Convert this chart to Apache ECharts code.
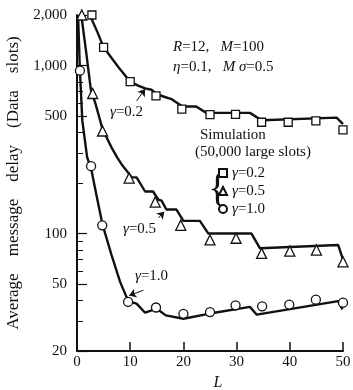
<!DOCTYPE html>
<html>
<head>
<meta charset="utf-8">
<script src="https://cdn.jsdelivr.net/npm/echarts@6/dist/echarts.min.js"></script>
<style>
  html, body { margin: 0; padding: 0; background: #fff; }
  #chart { width: 353px; height: 390px; }
</style>
</head>
<body>
<div id="chart"></div>
<script>
// analytic curves, [L, average delay]
const curve02 = [[2.4, 2000], [3.7, 1620], [5, 1288], [6.5, 1110], [7.8, 977], [10, 802], [11.5, 760], [12.8, 731],
    [14, 718], [15, 676], [16.5, 650], [17.8, 631], [19.7, 575], [20.6, 571], [22.4, 571], [24.3, 523], [32.5, 523],
    [34.7, 473], [48.8, 490], [50, 448]];
const curve05 = [[0.8, 2000], [1.7, 1220], [2.6, 720], [3.5, 590], [4.8, 418], [6.5, 325], [7.6, 282], [8.4, 258],
    [10.3, 216], [11.2, 216], [12.8, 178], [14.3, 178], [15.3, 159], [15.9, 157], [16.8, 139], [18.7, 139], [20, 119],
    [23.1, 119], [24.7, 100], [32.8, 100], [34.4, 81.7], [49.1, 85.5], [50, 70]];
const curve10 = [[0.2, 2000], [0.55, 930], [1.0, 470], [1.9, 285], [2.7, 240], [3.7, 167], [4.8, 113], [6.5, 74.5],
    [8.1, 51.6], [9.3, 42], [9.7, 39.5], [11.2, 38.3], [12.8, 33.8], [15, 35.7], [16.7, 32.6], [20, 31.1], [24.7, 33.3],
    [32.5, 36.6], [33.8, 32.9], [49.1, 39.6], [49.9, 35.4]];

// simulation points (50,000 large slots)
const sim02 = [[2.8, 2000], [5, 1285], [10, 802], [14.85, 661], [19.7, 551], [25, 510], [29.8, 512], [34.7, 460],
    [39.7, 460], [44.9, 468], [50, 414]];
const sim05 = [[0.9, 2000], [2.95, 682], [4.8, 408], [9.8, 214], [14.7, 154], [19.5, 112], [25, 91.6], [29.9, 93.8],
    [34.7, 76.2], [40, 78.7], [45, 79.8], [50, 67.9]];
const sim10 = [[0.55, 933], [2.65, 252], [4.75, 112], [9.6, 39.2], [14.85, 36.3], [20, 33.3], [25, 34.1], [29.8, 37.4],
    [34.8, 36.9], [39.9, 37.8], [44.9, 40.4], [50, 38.8]];

const seriesNames = ['γ=0.2', 'γ=0.5', 'γ=1.0'];
const yMajorTicks = [20, 50, 100, 500, 1000, 2000];
const yMinorTicks = [30, 40, 60, 70, 80, 90, 200, 300, 400, 600, 700, 800, 900];

// arrows from the curve labels to the curves
const arrow02 = [[11.2, 616], [12.8, 725]];
const arrow05 = [[15.3, 124], [16.4, 135]];
const arrow10 = [[12.5, 46], [9.8, 42.8]];

const serif = '"Liberation Serif", "DejaVu Serif", serif';
const ink = '#111';

const chart = echarts.init(document.getElementById('chart'));

const arrowMark = (pts) => ({
    silent: true,
    symbol: ['none', 'arrow'],
    symbolSize: 7,
    label: {show: false},
    lineStyle: {color: ink, width: 1, type: 'solid'},
    data: [[{coord: pts[0]}, {coord: pts[1]}]]
});

const curveSeries = (data, arrow) => ({
    type: 'line',
    data: data,
    symbol: 'none',
    smooth: false,
    lineStyle: {color: ink, width: 2.4},
    markLine: arrowMark(arrow),
    z: 2
});

const simSeries = (name, data, symbol, size) => ({
    name: name,
    type: 'scatter',
    data: data,
    symbol: symbol,
    symbolSize: size,
    itemStyle: {color: '#fff', borderColor: ink, borderWidth: 1.3, opacity: 1},
    z: 3
});

const txt = (x, y, text, size, extra) => ({
    type: 'text',
    x: x,
    y: y,
    silent: true,
    style: Object.assign({
        text: text,
        fill: ink,
        font: size + 'px ' + serif,
        verticalAlign: 'middle',
        rich: {i: {fontStyle: 'italic', fontSize: size, fontFamily: serif, fill: ink}}
    }, extra || {})
});

chart.setOption({
    animation: false,
    backgroundColor: '#fff',
    grid: {left: 77, right: 10, top: 15, bottom: 39, outerBoundsMode: 'none', containLabel: false},
    xAxis: {
        type: 'value',
        min: 0,
        max: 50,
        interval: 10,
        name: 'L',
        nameLocation: 'middle',
        nameGap: 21,
        nameTextStyle: {fontFamily: serif, fontStyle: 'italic', fontSize: 16, color: ink, padding: [0, 0, 0, 16]},
        axisLine: {lineStyle: {color: ink, width: 2}},
        axisTick: {inside: true, length: 9, lineStyle: {color: ink, width: 1.5}},
        axisLabel: {fontFamily: serif, fontSize: 15, color: ink, margin: 4},
        splitLine: {show: false}
    },
    yAxis: [{
        type: 'log',
        logBase: 10,
        min: 20,
        max: 2000,
        name: 'Average    message    delay    (Data    slots)',
        nameLocation: 'middle',
        nameGap: 51,
        nameRotate: 90,
        nameTextStyle: {fontFamily: serif, fontSize: 17, color: ink},
        axisLine: {show: true, lineStyle: {color: ink, width: 2}},
        axisTick: {show: true, inside: true, length: 10, customValues: yMajorTicks, lineStyle: {color: ink, width: 1.2}},
        axisLabel: {
            fontFamily: serif, fontSize: 15, color: ink, margin: 10,
            customValues: yMajorTicks,
            formatter: (v) => Number(v).toLocaleString('en-US')
        },
        splitLine: {show: false}
    }, {
        type: 'log',
        logBase: 10,
        min: 20,
        max: 2000,
        position: 'left',
        axisLine: {show: false},
        axisTick: {show: true, inside: true, length: 6, customValues: yMinorTicks, lineStyle: {color: ink, width: 1}},
        axisLabel: {show: false},
        splitLine: {show: false}
    }],
    legend: {
        data: seriesNames,
        orient: 'vertical',
        left: 218,
        top: 165,
        padding: 0,
        itemWidth: 8,
        itemHeight: 8,
        itemGap: 2,
        selectedMode: false,
        formatter: (name) => '{i|γ}' + name.slice(1),
        textStyle: {
            fontFamily: serif, fontSize: 15, color: ink, lineHeight: 16,
            rich: {i: {fontStyle: 'italic', fontFamily: serif, fontSize: 15, color: ink}}
        }
    },
    series: [
        curveSeries(curve02, arrow02),
        curveSeries(curve05, arrow05),
        curveSeries(curve10, arrow10),
        simSeries(seriesNames[0], sim02, 'rect', 8),
        simSeries(seriesNames[1], sim05, 'triangle', 10),
        simSeries(seriesNames[2], sim10, 'circle', 9)
    ],
    graphic: [
        txt(173, 47, '{i|R}=12,   {i|M}=100', 15),
        txt(173, 67, '{i|η}=0.1,   {i|M σ}=0.5', 15),
        txt(110, 112, '{i|γ}=0.2', 15),
        txt(123, 229, '{i|γ}=0.5', 15),
        txt(135, 276, '{i|γ}=1.0', 15),
        txt(200, 135, 'Simulation', 15),
        txt(195, 152, '(50,000 large slots)', 15),
        txt(208, 190, '{', 40, {font: '40px ' + serif})
    ]
});
</script>
</body>
</html>
